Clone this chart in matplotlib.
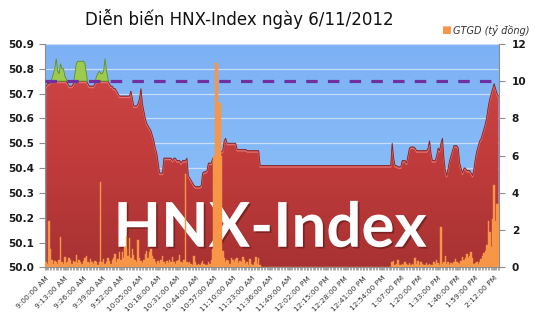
"""
Intraday HNX-Index (area, left axis) and traded value GTGD (bars, right axis)
for 6/11/2012, minute by minute from 9:00 AM to 2:15 PM.
"""
import matplotlib.patheffects as pe
import matplotlib.pyplot as plt
import numpy as np
import pandas as pd
from matplotlib.colors import LinearSegmentedColormap

REF_LEVEL = 50.75      # reference (previous close), dashed purple line
VOL_REF = 10           # same height on the right axis

# HNX-Index, one value per minute
INDEX_AM = [
    50.73, 50.74, 50.74, 50.75, 50.76, 50.78, 50.80, 50.84, 50.79, 50.78,
    50.82, 50.80, 50.80, 50.77, 50.76, 50.74, 50.73, 50.73, 50.73, 50.74,
    50.78, 50.82, 50.83, 50.83, 50.83, 50.83, 50.83, 50.82, 50.78, 50.74,
    50.73, 50.73, 50.73, 50.73, 50.74, 50.77, 50.78, 50.79, 50.78, 50.78,
    50.79, 50.84, 50.79, 50.76, 50.74, 50.73, 50.73, 50.72, 50.72, 50.71,
    50.70, 50.69, 50.69, 50.69, 50.69, 50.69, 50.69, 50.69, 50.69, 50.71,
    50.68, 50.65, 50.65, 50.65, 50.66, 50.68, 50.72, 50.66, 50.63, 50.60,
    50.58, 50.57, 50.56, 50.55, 50.53, 50.51, 50.48, 50.46, 50.42, 50.38,
    50.38, 50.38, 50.44, 50.44, 50.44, 50.44, 50.44, 50.44, 50.43, 50.44,
    50.44, 50.43, 50.43, 50.43, 50.42, 50.43, 50.43, 50.43, 50.44, 50.37,
    50.36, 50.35, 50.34, 50.33, 50.325, 50.325, 50.325, 50.325, 50.33, 50.38,
    50.385, 50.385, 50.39, 50.42, 50.42, 50.42, 50.44, 50.44, 50.44, 50.44,
    50.465, 50.465, 50.465, 50.47, 50.51, 50.52, 50.50, 50.50, 50.50, 50.50,
    50.50, 50.50, 50.50, 50.475, 50.475, 50.475, 50.475, 50.475, 50.475, 50.475,
    50.47, 50.47, 50.47, 50.47, 50.47, 50.47, 50.47, 50.47, 50.47, 50.41,
]
INDEX_LUNCH = [50.41] * 91
INDEX_PM = [
    50.50, 50.44, 50.41, 50.41, 50.405, 50.405, 50.405, 50.43, 50.43,
    50.43, 50.42, 50.45, 50.48, 50.485, 50.485, 50.485, 50.48, 50.47, 50.47,
    50.47, 50.47, 50.47, 50.47, 50.47, 50.47, 50.48, 50.51, 50.46, 50.43,
    50.43, 50.43, 50.45, 50.48, 50.47, 50.50, 50.52, 50.44, 50.39, 50.37,
    50.40, 50.43, 50.45, 50.47, 50.49, 50.49, 50.49, 50.48, 50.42, 50.40,
    50.38, 50.40, 50.40, 50.39, 50.39, 50.39, 50.38, 50.37, 50.40, 50.44,
    50.47, 50.49, 50.51, 50.52, 50.54, 50.56, 50.58, 50.61, 50.65, 50.68,
    50.70, 50.72, 50.74, 50.72, 50.70, 50.69,
]

# GTGD (ty dong), one value per minute
VOL_AM = [
    0.3, 0.2, 2.5, 1.0, 0.4, 0.2, 0.35, 0.3, 0.2, 0.4,
    1.65, 0.3, 0.2, 0.55, 0.25, 0.3, 0.5, 0.4, 0.2, 0.35,
    0.3, 0.65, 0.25, 0.4, 0.3, 0.2, 0.35, 0.5, 0.6, 0.3,
    0.25, 0.45, 0.3, 0.2, 0.35, 0.3, 0.15, 0.3, 4.6, 0.3,
    0.45, 0.2, 0.3, 0.5, 0.35, 0.2, 0.4, 0.5, 0.7, 0.3,
    0.45, 0.85, 0.4, 0.8, 0.5, 1.1, 1.7, 0.6, 1.6, 0.5,
    1.0, 0.65, 0.4, 0.3, 1.45, 0.5, 0.35, 0.25, 0.4, 0.7,
    0.9, 0.5, 0.85, 1.0, 0.6, 0.45, 0.3, 0.2, 0.35, 0.25,
    0.4, 0.6, 0.3, 0.2, 0.35, 0.25, 0.4, 0.3, 0.55, 0.3,
    0.2, 0.35, 0.4, 0.65, 0.3, 0.25, 0.4, 5.0, 0.3, 0.25,
    0.3, 0.2, 0.15, 0.6, 0.3, 0.15, 0.2, 0.1, 0.25, 0.35,
    0.2, 0.1, 0.15, 0.3, 0.2, 0.4, 1.0, 6.0, 11.0, 11.0,
    8.8, 8.8, 6.0, 0.9, 0.5, 0.3, 0.4, 0.35, 0.2, 0.5,
    0.4, 0.3, 0.45, 0.5, 0.25, 0.35, 0.3, 0.55, 0.4, 0.2,
    0.3, 0.15, 0.45, 0.2, 0.1, 0.3, 0.55, 0.2, 0.5, 0.15,
]
VOL_LUNCH = [0.0] * 91
VOL_PM = [
    0.3, 0.35, 0.1, 0.2, 0.4, 0.15, 0.1, 0.2, 0.1,
    0.3, 0.2, 0.15, 0.25, 0.1, 0.2, 0.15, 0.5, 0.2, 0.35,
    0.1, 0.3, 0.2, 0.1, 0.15, 0.25, 0.1, 0.2, 0.15, 0.1,
    0.3, 0.2, 0.4, 0.25, 0.15, 2.15, 0.2, 0.3, 0.6, 0.2,
    0.3, 0.15, 0.25, 0.2, 0.3, 0.45, 0.3, 0.25, 0.2, 0.35,
    0.55, 0.4, 0.5, 0.7, 0.5, 0.6, 0.8, 0.5, 0.2, 0.25,
    0.3, 0.2, 0.3, 0.45, 0.6, 0.75, 0.9, 1.2, 2.5, 1.9,
    1.1, 2.6, 4.4, 2.5, 3.4, 3.4,
]

LEFT_TICKS = [50.0, 50.1, 50.2, 50.3, 50.4, 50.5, 50.6, 50.7, 50.8, 50.9]
RIGHT_TICKS = [0, 2, 4, 6, 8, 10, 12]
LABEL_STEP = 13

index = np.array(INDEX_AM + INDEX_LUNCH + INDEX_PM)
volume = np.array(VOL_AM + VOL_LUNCH + VOL_PM)
times = pd.date_range('2012-11-06 09:00', periods=len(index), freq='min')
x = np.arange(len(index))


def time_label(t):
    h12 = t.hour % 12 or 12
    return f"{h12}:{t.minute:02d}:00 {'AM' if t.hour < 12 else 'PM'}"


fig = plt.figure(figsize=(5.35, 3.35), dpi=100)
ax = fig.add_axes([0.085, 0.202, 0.848, 0.667])
xlim = (-0.5, len(x) - 0.5)
ylim = (LEFT_TICKS[0], LEFT_TICKS[-1])

# light blue plot background
sky = LinearSegmentedColormap.from_list('sky', ['#8EC4FA', '#7DB1F5'])
ax.imshow(np.linspace(0, 1, 100)[:, None], extent=[*xlim, *ylim], origin='lower',
          aspect='auto', cmap=sky, zorder=0)
ax.set_axisbelow(True)
ax.yaxis.grid(True, color='#C6DCF8', lw=0.9)

# red area: index capped at the reference level, shaded top to bottom
red_top = np.minimum(index, REF_LEVEL)
area = ax.fill_between(x, ylim[0], red_top, color='none', lw=0)
reds = LinearSegmentedColormap.from_list('reds', ['#A83232', '#C23C3C', '#D04646'])
im = ax.imshow(np.linspace(0, 1, 100)[:, None], extent=[*xlim, *ylim], origin='lower',
               aspect='auto', cmap=reds, zorder=2)
im.set_clip_path(area.get_paths()[0], transform=ax.transData)
ax.plot(x, red_top - 0.006, color='#E27272', lw=0.9, zorder=2.4)
ax.plot(x, red_top, color='#7E2424', lw=0.6, zorder=2.5)

# green area: part of the index above the reference
ax.fill_between(x, REF_LEVEL, index, where=index > REF_LEVEL, interpolate=True,
                facecolor='#9DCB50', edgecolor='#5F8F22', lw=0.6, zorder=2.6)

ax.text(0.495, 0.092, 'HNX-Index', transform=ax.transAxes, ha='center', va='baseline',
        fontsize=44.5, fontweight='bold', family='Lato', color='white', zorder=5,
        path_effects=[pe.withSimplePatchShadow(offset=(1.2, -1.2),
                                               shadow_rgbFace='#4A1010', alpha=0.5)])

ax.set_xlim(*xlim)
ax.set_ylim(*ylim)
ax.set_yticks(LEFT_TICKS)
ax.set_yticklabels([f'{v:.1f}' for v in LEFT_TICKS], fontweight='bold', color='#1A1A1A')
ax.set_xticks(x[::LABEL_STEP])
ax.set_xticklabels([time_label(t) for t in times[::LABEL_STEP]], rotation=45,
                   ha='right', va='top', rotation_mode='anchor', fontsize=5.4, color='#333333')
ax.set_xticks(np.arange(xlim[0], xlim[1] + 1), minor=True)
ax.tick_params(axis='y', labelsize=7.6, length=4, color='#8C8C8C', pad=4)
ax.tick_params(axis='x', which='both', length=2.5, color='#9A9A9A', pad=3)
for side in ('top', 'right'):
    ax.spines[side].set_visible(False)
for side in ('left', 'bottom'):
    ax.spines[side].set_color('#8C8C8C')

# GTGD bars on the right axis, on top of the area
ax2 = ax.twinx()
ax2.bar(x, volume, width=1.0, color='#F79646', edgecolor='#F79646', lw=0.3, zorder=3)
ax2.axhline(VOL_REF, color='#7030A0', lw=2.3, linestyle=(0, (3.6, 3.2)),
            dash_capstyle='butt', zorder=4)
ax2.set_ylim(RIGHT_TICKS[0], RIGHT_TICKS[-1])
ax2.set_yticks(RIGHT_TICKS)
ax2.set_yticklabels([str(v) for v in RIGHT_TICKS], fontweight='bold', color='#1A1A1A')
ax2.tick_params(axis='y', labelsize=7.6, length=4, color='#8C8C8C', pad=5)
for side in ('top', 'left', 'bottom'):
    ax2.spines[side].set_visible(False)
ax2.spines['right'].set_color('#8C8C8C')

fig.text(0.447, 0.942, 'Diễn biến HNX-Index ngày 6/11/2012', ha='center', va='center',
         fontsize=12, color='#111111')
fig.text(0.834, 0.91, '■', ha='center', va='center', fontsize=7.5, color='#F79646')
fig.text(0.846, 0.91, 'GTGD (tỷ đồng)', ha='left', va='center', fontsize=7,
         style='italic', color='#333333')

fig.savefig('out.png', dpi=100)
